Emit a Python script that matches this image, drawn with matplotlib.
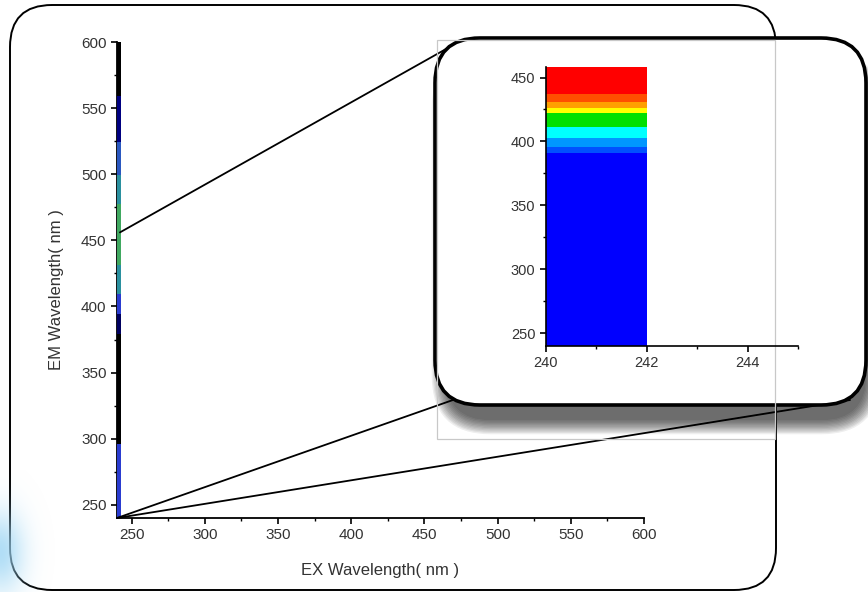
import numpy as np
import matplotlib
matplotlib.use("Agg")
import matplotlib.pyplot as plt
from matplotlib.colors import ListedColormap, BoundaryNorm, LinearSegmentedColormap
from matplotlib.patches import FancyBboxPatch, Rectangle, ConnectionPatch
from matplotlib.ticker import MultipleLocator

plt.rcParams['font.family'] = ['Liberation Sans', 'DejaVu Sans']

# full map: a single 2 nm excitation column, emission bands with relative intensity
ex_edges = [240, 242]
main_em_edges = [240, 297, 380, 395, 410, 432, 478, 500, 525, 560, 600]
main_intensity = [0.45, 0.0, 0.15, 0.45, 0.75, 1.0, 0.75, 0.55, 0.2, 0.0]

# zoomed map (240-458 nm emission), contour level per band
zoom_em_edges = [240, 391, 396, 403, 411, 422, 426, 431, 437, 458]
zoom_level = [1, 2, 3, 4, 5, 6, 7, 8, 9]

main_ticks = [250, 300, 350, 400, 450, 500, 550, 600]
zoom_x_ticks = [240, 242, 244]
zoom_y_ticks = [250, 300, 350, 400, 450]

W, H = 868, 592
fig = plt.figure(figsize=(W / 100, H / 100), dpi=100)

# background layer in pixel units
bg = fig.add_axes([0, 0, 1, 1], zorder=0)
bg.axis('off')
bg.add_patch(FancyBboxPatch((10, 5), 766, 585, boxstyle="round,pad=0,rounding_size=42",
                            fc='white', ec='black', lw=1.4))
gx, gy = np.meshgrid(np.linspace(0, 60, 120), np.linspace(470, H, 240))
glow = np.zeros(gx.shape + (4,))
glow[..., 0] = 0.62
glow[..., 1] = 0.84
glow[..., 2] = 0.96
glow[..., 3] = 0.8 * np.exp(-(gx / 24) ** 2) * np.exp(-((gy - 552) / 40) ** 2)
bg.imshow(glow, extent=(0, 60, H, 470), origin='upper', aspect='auto', zorder=3)
bg.set_xlim(0, W)
bg.set_ylim(H, 0)

# main plot
ax = fig.add_axes([117 / W, 1 - 518 / H, 527 / W, 476 / H], zorder=1)
ax.set_facecolor('none')
main_cmap = LinearSegmentedColormap.from_list(
    'em', [(0, 'black'), (0.2, '#000080'), (0.45, '#2a3cd0'), (0.75, '#2a90a0'), (1, '#40a860')])
ax.pcolormesh(ex_edges, main_em_edges, np.array(main_intensity)[:, None],
              cmap=main_cmap, vmin=0, vmax=1, zorder=3,
              edgecolors='face', linewidth=1.2)
ax.set_xlim(240, 600)
ax.set_ylim(240, 600)
for s in ['top', 'right']:
    ax.spines[s].set_visible(False)
for s in ['left', 'bottom']:
    ax.spines[s].set_linewidth(1.3)
ax.set_xticks(main_ticks)
ax.set_yticks(main_ticks)
ax.xaxis.set_minor_locator(MultipleLocator(25))
ax.yaxis.set_minor_locator(MultipleLocator(25))
ax.tick_params(which='major', direction='out', length=4.5, width=1.2, labelsize=11,
               labelcolor='#333333', pad=3)
ax.tick_params(which='minor', direction='out', length=2.5, width=1.0)
ax.set_xlabel('EX Wavelength( nm )', fontsize=12, color='#333333')
ax.set_ylabel('EM Wavelength( nm )', fontsize=12, color='#333333')
ax.xaxis.set_label_coords(0.5, -0.095)
ax.yaxis.set_label_coords(-0.1, 0.48)

# lines from the zoomed region to the inset
for xa, xb in [((242, 456), (462, 40)), ((240, 240), (470, 394)), ((240, 240), (850, 400))]:
    cp = ConnectionPatch(xyA=xa, coordsA=ax.transData, xyB=xb, coordsB=bg.transData,
                         color='black', lw=1.3, zorder=2)
    fig.add_artist(cp)

# inset frame with shadow
box = fig.add_axes([0, 0, 1, 1], zorder=3)
box.set_facecolor('none')
box.axis('off')
for i in range(12):
    g = i * 1.3
    box.add_patch(FancyBboxPatch((446 - g, 58 - g * 0.6), 420 + 2 * g, 362 + 1.6 * g,
                                 boxstyle="round,pad=0,rounding_size=%d" % (45 + g),
                                 fc='black', ec='none', alpha=0.065))
box.add_patch(FancyBboxPatch((435, 38), 431, 367, boxstyle="round,pad=0,rounding_size=45",
                             fc='white', ec='black', lw=2.6))
box.add_patch(Rectangle((437, 40), 338, 399, fc='none', ec='#c8c8c8', lw=0.9))
box.set_xlim(0, W)
box.set_ylim(H, 0)

# inset plot
ins = fig.add_axes([545.7 / W, 1 - 346 / H, (798.3 - 545.7) / W, (346 - 67.3) / H], zorder=4)
ins.set_facecolor('none')
zoom_cmap = ListedColormap(['#0000ff', '#0050ff', '#0096ff', '#00ffff', '#00e000',
                            '#ffff00', '#ffa000', '#ff5000', '#ff0000'])
zoom_norm = BoundaryNorm(np.arange(0.5, 10.5, 1), zoom_cmap.N)
ins.pcolormesh(ex_edges, zoom_em_edges, np.array(zoom_level)[:, None],
               cmap=zoom_cmap, norm=zoom_norm)
ins.set_xlim(240, 245)
ins.set_ylim(240, 458)
for s in ['top', 'right']:
    ins.spines[s].set_visible(False)
for s in ['left', 'bottom']:
    ins.spines[s].set_linewidth(1.2)
ins.set_xticks(zoom_x_ticks)
ins.set_yticks(zoom_y_ticks)
ins.xaxis.set_minor_locator(MultipleLocator(1))
ins.yaxis.set_minor_locator(MultipleLocator(25))
ins.tick_params(which='major', direction='out', length=4.5, width=1.2, labelsize=10.5,
                labelcolor='#333333', pad=3)
ins.tick_params(which='minor', direction='out', length=2.5, width=1.0)

fig.savefig('out.png', dpi=100)
